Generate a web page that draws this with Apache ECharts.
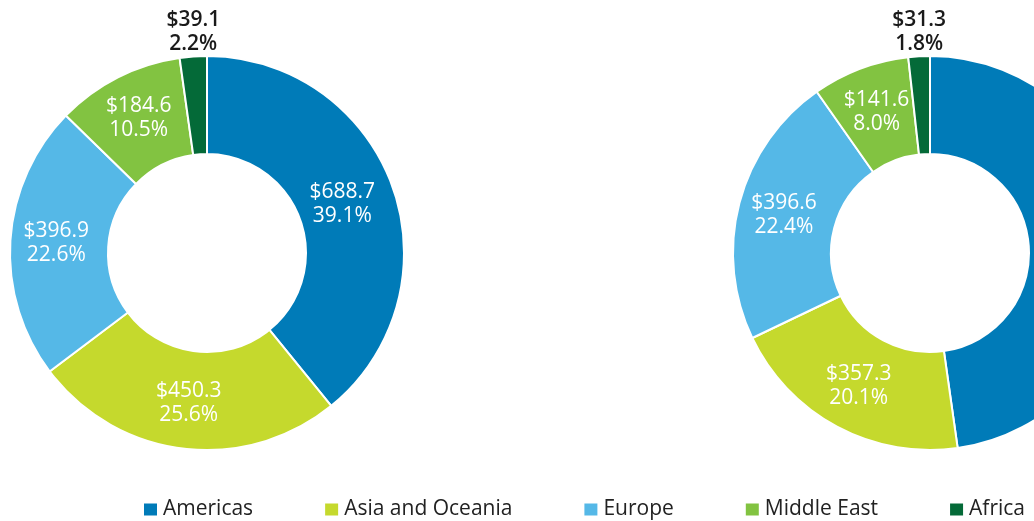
<!DOCTYPE html>
<html>
<head>
<meta charset="utf-8">
<script src="https://cdn.jsdelivr.net/npm/echarts@6/dist/echarts.min.js"></script>
<style>
  html, body { margin: 0; padding: 0; background: #fff; }
  #main { width: 1034px; height: 521px; }
</style>
</head>
<body>
<div id="main"></div>
<script>
// regions, clockwise from 12 o'clock
var regions = ['Americas', 'Asia and Oceania', 'Europe', 'Middle East', 'Africa'];
var colors = ['#007bb8', '#c5d92d', '#55b8e7', '#82c341', '#046a38'];

// left donut: value ($) and share (%)
var leftValues = [688.7, 450.3, 396.9, 184.6, 39.1];
var leftShares = [39.1, 25.6, 22.6, 10.5, 2.2];

// right donut (Americas label is outside the picture, value estimated)
var rightValues = [847.2, 357.3, 396.6, 141.6, 31.3];
var rightShares = [47.7, 20.1, 22.4, 8.0, 1.8];

var FONT = '"Open Sans", "Noto Sans", sans-serif';

function buildData(values, shares) {
  return values.map(function (v, i) {
    var item = {
      name: regions[i],
      value: v,
      share: shares[i],
      itemStyle: { color: colors[i] }
    };
    // the thin last slice gets its label above the ring
    if (i === values.length - 1) {
      item.label = {
        position: 'outside',
        color: '#1a1a1a',
        fontWeight: 600
      };
      item.labelLine = { show: false, length: 2, length2: 0 };
    }
    return item;
  });
}

function donut(center, values, shares) {
  var data = buildData(values, shares);
  return {
    type: 'pie',
    center: center,
    radius: [99, 197],
    startAngle: 90,
    clockwise: true,
    avoidLabelOverlap: false,
    itemStyle: { borderColor: '#fff', borderWidth: 2 },
    label: {
      show: true,
      position: 'inside',
      color: '#fff',
      fontFamily: FONT,
      fontSize: 21,
      lineHeight: 24,
      formatter: function (p) {
        return '$' + p.value.toFixed(1) + '\n' + data[p.dataIndex].share.toFixed(1) + '%';
      }
    },
    labelLayout: function (p) {
      if (p.dataIndex === 0) return { dx: -7, dy: 2 };
      if (p.dataIndex !== data.length - 1) return {};
      return {
        x: p.rect.x + p.rect.width / 2,
        y: p.rect.y + 1,
        align: 'center',
        verticalAlign: 'bottom'
      };
    },
    emphasis: { disabled: true },
    data: data
  };
}

var chart = echarts.init(document.getElementById('main'));
chart.setOption({
  animation: false,
  legend: {
    data: regions,
    left: 142,
    top: 499,
    width: 1400,
    padding: 0,
    icon: 'rect',
    itemWidth: 15,
    itemHeight: 14,
    itemGap: 70,
    textStyle: { fontFamily: FONT, fontSize: 21, color: '#222' }
  },
  series: [
    donut([207, 253], leftValues, leftShares),
    donut([930, 253], rightValues, rightShares)
  ]
});
</script>
</body>
</html>
